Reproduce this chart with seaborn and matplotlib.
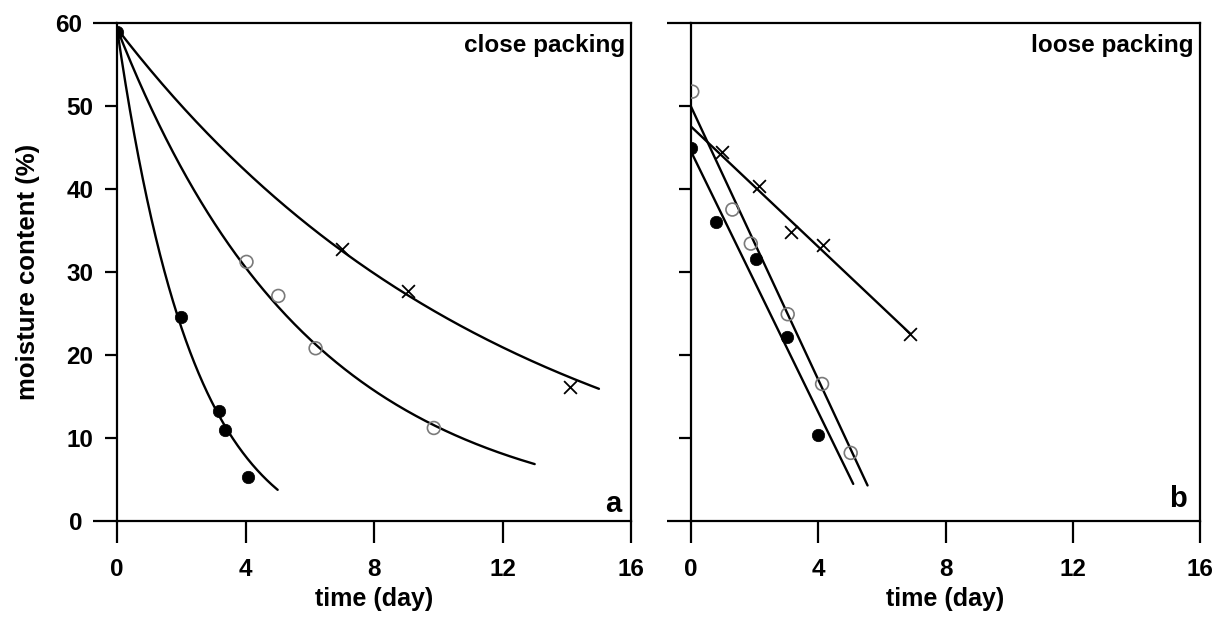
import numpy as np
import pandas as pd
import matplotlib
matplotlib.use("Agg")
import matplotlib.pyplot as plt
import seaborn as sns

# ---------------- data ----------------
# panel a: close packing
a_filled_t = [0.0, 1.99, 3.16, 3.35, 4.09]
a_filled_y = [58.9, 24.6, 13.2, 10.9, 5.3]
a_open_t = [4.03, 5.02, 6.18, 9.86]
a_open_y = [31.2, 27.1, 20.8, 11.2]
a_cross_t = [7.0, 9.06, 14.09]
a_cross_y = [32.8, 27.7, 16.1]

# fitted exponential curves y = A*exp(-k t) + C, drawn from t=0 to t_end
a_fit_names = ["filled", "open", "cross"]
a_fit_A = [63.3, 59.3, 61.3]
a_fit_k = [0.42, 0.166, 0.082]
a_fit_C = [-4.0, 0.0, -2.0]
a_fit_tend = [5.0, 13.0, 15.0]

# panel b: loose packing
b_filled_t = [0.0, 0.79, 2.04, 3.01, 4.0]
b_filled_y = [44.9, 36.0, 31.6, 22.2, 10.4]
b_open_t = [0.04, 1.30, 1.88, 3.04, 4.12, 5.02]
b_open_y = [51.7, 37.5, 33.4, 24.9, 16.5, 8.2]
b_cross_t = [0.99, 2.14, 3.15, 4.15, 6.89]
b_cross_y = [44.4, 40.3, 34.8, 33.2, 22.5]

# fitted straight lines y = b0 + b1*t, drawn from t=0 to t_end
b_fit_names = ["filled", "open", "cross"]
b_fit_b0 = [44.5, 49.9, 47.5]
b_fit_b1 = [-7.85, -8.22, -3.62]
b_fit_tend = [5.1, 5.55, 6.9]

x_ticks = [0, 4, 8, 12, 16]
y_ticks_inner = [10, 20, 30, 40, 50]
y_ticks_outer = [0, 60]
panel_titles = ["close packing", "loose packing"]
panel_letters = ["a", "b"]
x_label = "time (day)"
y_label = "moisture content (%)"

# ---------------- style ----------------
sns.set_style("ticks")
plt.rcParams["font.family"] = ["Liberation Sans", "DejaVu Sans"]
plt.rcParams["font.weight"] = "bold"
plt.rcParams["text.color"] = "black"
plt.rcParams["axes.labelcolor"] = "black"
plt.rcParams["xtick.color"] = "black"
plt.rcParams["ytick.color"] = "black"

fig = plt.figure(figsize=(12.23, 6.17), dpi=100)
axA = fig.add_axes([0.0957, 0.1556, 0.4203, 0.8076])
axB = fig.add_axes([0.5650, 0.1556, 0.4162, 0.8076])


def draw_points(ax, ft, fy, ot, oy, ct, cy):
    sns.scatterplot(x=ot, y=oy, ax=ax, marker="o", s=85, facecolor="none",
                    edgecolor="#7a7a7a", linewidth=1.2, zorder=4)
    sns.scatterplot(x=ct, y=cy, ax=ax, marker="x", s=85, color="black",
                    linewidth=1.3, zorder=4)
    sns.scatterplot(x=ft, y=fy, ax=ax, marker="o", s=80, color="black",
                    edgecolor="black", linewidth=0.5, zorder=5)


# panel a curves
for A, k, C, te in zip(a_fit_A, a_fit_k, a_fit_C, a_fit_tend):
    tt = np.linspace(0, te, 300)
    yy = A * np.exp(-k * tt) + C
    sns.lineplot(x=tt, y=yy, ax=axA, color="black", linewidth=1.7,
                 estimator=None, sort=False, zorder=3)
draw_points(axA, a_filled_t, a_filled_y, a_open_t, a_open_y, a_cross_t, a_cross_y)

# panel b lines
for b0, b1, te in zip(b_fit_b0, b_fit_b1, b_fit_tend):
    tt = np.array([0.0, te])
    yy = b0 + b1 * tt
    sns.lineplot(x=tt, y=yy, ax=axB, color="black", linewidth=1.7,
                 estimator=None, sort=False, zorder=3)
draw_points(axB, b_filled_t, b_filled_y, b_open_t, b_open_y, b_cross_t, b_cross_y)

letter_x = [0.982, 0.975]
letter_y = [0.034, 0.045]
for i, ax in enumerate([axA, axB]):
    ax.set_xlim(0, 16)
    ax.set_ylim(0, 60)
    ax.set_xticks(x_ticks)
    ax.set_yticks(y_ticks_inner)
    ax.set_yticks(y_ticks_outer, minor=True)
    for s in ax.spines.values():
        s.set_visible(True)
        s.set_linewidth(1.6)
        s.set_color("black")
    ax.tick_params(axis="x", which="major", direction="out", length=16, width=1.6,
                   labelsize=17.5, pad=11)
    ax.tick_params(axis="y", which="major", direction="out", length=9, width=1.6,
                   labelsize=17.5, pad=8)
    ax.tick_params(axis="y", which="minor", direction="out", length=17, width=1.6,
                   labelsize=17.5, pad=8)
    ax.tick_params(axis="x", which="minor", bottom=False)
    ax.set_xlabel(x_label, fontsize=18, fontweight="bold", labelpad=4)
    ax.text(0.988, 0.955, panel_titles[i], transform=ax.transAxes, ha="right",
            va="center", fontsize=17.5, fontweight="bold")
    ax.text(letter_x[i], letter_y[i], panel_letters[i], transform=ax.transAxes,
            ha="right", va="center", fontsize=21, fontweight="bold")
    ax.grid(False)

axA.set_yticklabels([str(v) for v in y_ticks_inner])
axA.set_yticklabels([str(v) for v in y_ticks_outer], minor=True)
axA.set_ylabel(y_label, fontsize=18.5, fontweight="bold", labelpad=11)
axB.set_yticklabels([])
axB.set_yticklabels([], minor=True)
axB.set_ylabel("")

fig.savefig("out.png", dpi=100, facecolor="white")
